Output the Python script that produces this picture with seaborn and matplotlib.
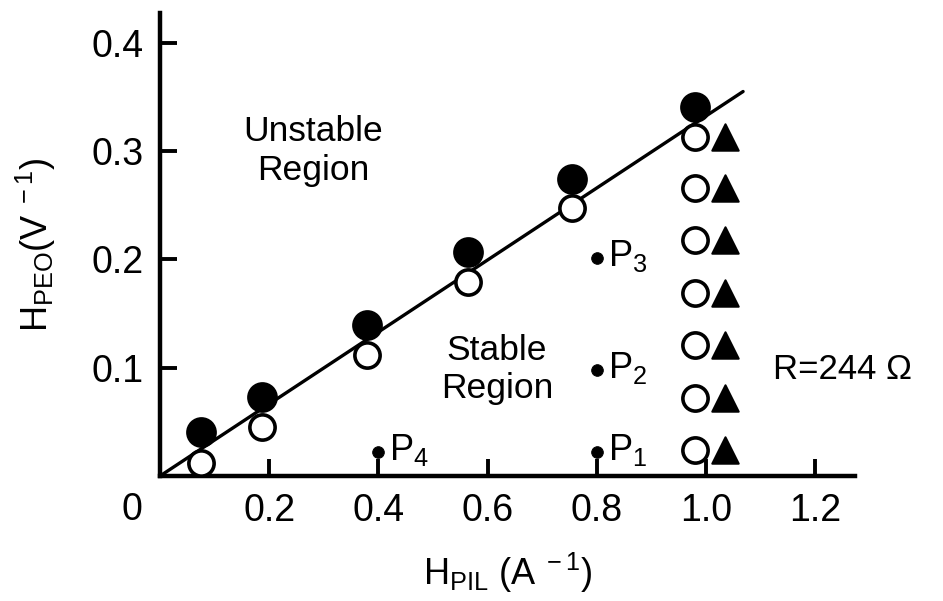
import matplotlib
matplotlib.use("Agg")
import matplotlib.pyplot as plt
import seaborn as sns
import numpy as np
import pandas as pd

# --- data ---
solid_x = [0.075, 0.187, 0.379, 0.564, 0.755, 0.980]
solid_y = [0.041, 0.073, 0.139, 0.207, 0.274, 0.341]

open_x = [0.075, 0.187, 0.379, 0.564, 0.755, 0.980, 0.980, 0.980, 0.980, 0.980, 0.980, 0.980]
open_y = [0.012, 0.045, 0.112, 0.179, 0.247, 0.313, 0.266, 0.218, 0.169, 0.121, 0.072, 0.024]

tri_x = [1.035, 1.035, 1.035, 1.035, 1.035, 1.035, 1.035]
tri_y = [0.313, 0.266, 0.218, 0.169, 0.121, 0.072, 0.024]

p_x = [0.80, 0.80, 0.80, 0.40]
p_y = [0.022, 0.098, 0.201, 0.022]
p_labels = ["1", "2", "3", "4"]

line_x = [0.0, 1.068]
line_y = [0.0, 0.355]

xticks = [0.2, 0.4, 0.6, 0.8, 1.0, 1.2]
xticklabels = ["0.2", "0.4", "0.6", "0.8", "1.0", "1.2"]
yticks = [0.1, 0.2, 0.3, 0.4]
yticklabels = ["0.1", "0.2", "0.3", "0.4"]

sns.set_style("ticks")
plt.rcParams['font.family'] = ['Liberation Sans', 'DejaVu Sans']
plt.rcParams['mathtext.fontset'] = 'custom'
plt.rcParams['mathtext.rm'] = 'Liberation Sans'
plt.rcParams['mathtext.it'] = 'Liberation Sans'
plt.rcParams['text.color'] = 'black'
plt.rcParams['axes.labelcolor'] = 'black'

fig = plt.figure(figsize=(9.43, 6.01), dpi=100)
ax = fig.add_axes([160/943, 1-476/601, (855-160)/943, (476-13)/601])

sns.lineplot(x=line_x, y=line_y, ax=ax, color='black', linewidth=2.4)

sns.scatterplot(x=open_x, y=open_y, ax=ax, marker='o', s=330,
                facecolor='white', edgecolor='black', linewidth=2.6, zorder=3)
sns.scatterplot(x=solid_x, y=solid_y, ax=ax, marker='o', s=420,
                color='black', edgecolor='black', zorder=4)
sns.scatterplot(x=tri_x, y=tri_y, ax=ax, marker='^', s=360,
                color='black', edgecolor='black', zorder=3)
sns.scatterplot(x=p_x, y=p_y, ax=ax, marker='o', s=70,
                color='black', edgecolor='black', zorder=3)

for x, y, lab in zip(p_x, p_y, p_labels):
    ax.text(x + 0.02, y + 0.002, r'P$_{\mathrm{' + lab + '}}$', fontsize=26,
            va='center', ha='left')

ax.text(0.28, 0.30, "Unstable\nRegion", fontsize=25.5, ha='center', va='center',
        linespacing=1.2)
ax.text(0.617, 0.098, "Stable\nRegion", fontsize=25.5, ha='center', va='center',
        linespacing=1.2)
ax.text(1.25, 0.098, "R=244 Ω", fontsize=25, ha='center', va='center')

ax.set_xlim(0, 1.273)
ax.set_ylim(0, 0.4275)
ax.set_xticks(xticks)
ax.set_xticklabels(xticklabels)
ax.set_yticks(yticks)
ax.set_yticklabels(yticklabels)
ax.tick_params(direction='in', length=12, width=2.8, labelsize=27, pad=12,
               colors='black')
ax.text(-0.051, -0.031, "0", fontsize=27, ha='center', va='center', clip_on=False)

for side in ['top', 'right']:
    ax.spines[side].set_visible(False)
for side in ['left', 'bottom']:
    ax.spines[side].set_linewidth(3.2)
    ax.spines[side].set_color('black')

ax.set_xlabel(r'H$_{\mathrm{PIL}}$ (A$^{\mathrm{\ -1}}$)', fontsize=26, labelpad=16)
ax.set_ylabel(r'H$_{\mathrm{PEO}}$(V$^{\mathrm{\ -1}}$)', fontsize=26, labelpad=24)

fig.savefig("out.png", dpi=100)
